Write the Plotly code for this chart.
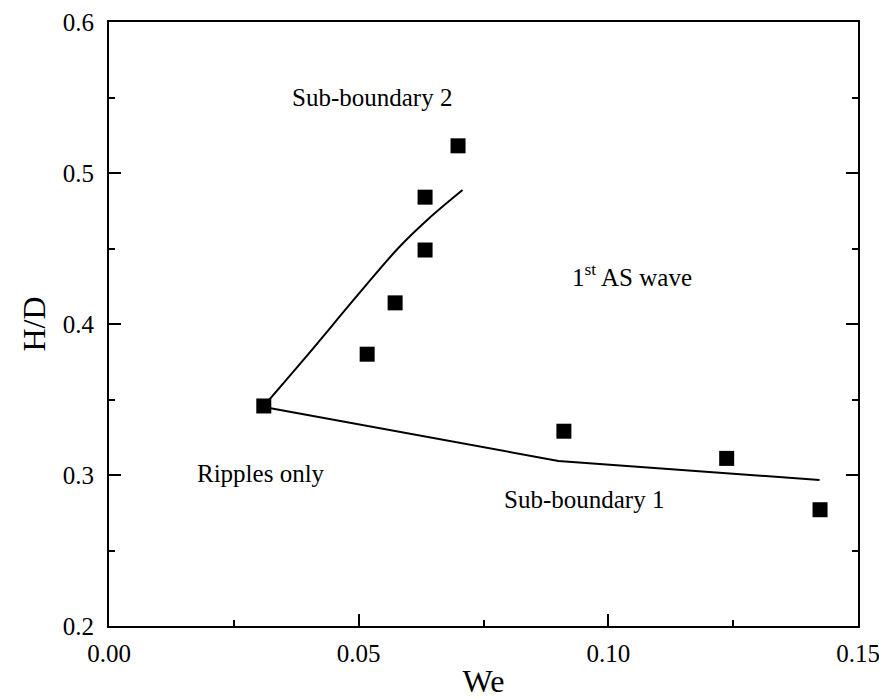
import plotly.graph_objects as go

# Experimental points
we_pts = [0.0310, 0.0517, 0.0573, 0.0633, 0.0633, 0.0699, 0.0911, 0.1237, 0.1424]
hd_pts = [0.3457, 0.3800, 0.4140, 0.4490, 0.4840, 0.5180, 0.3290, 0.3110, 0.2770]

# Sub-boundary 1 (lower line)
sb1_we = [0.0310, 0.0900, 0.1423]
sb1_hd = [0.3450, 0.3093, 0.2967]

# Sub-boundary 2 (upper curve)
sb2_we = [0.0310, 0.0400, 0.0500, 0.0580, 0.0640, 0.0708]
sb2_hd = [0.3457, 0.3804, 0.4199, 0.4505, 0.4697, 0.4887]

# Region labels
label_text = ["Sub-boundary 2", "1<sup>st</sup> AS wave", "Ripples only", "Sub-boundary 1"]
label_we = [0.0526, 0.1047, 0.0304, 0.0952]
label_hd = [0.5503, 0.4325, 0.3007, 0.2841]

FONT = "Liberation Serif"

fig = go.Figure()
fig.add_trace(go.Scatter(x=sb1_we, y=sb1_hd, mode="lines",
                         line=dict(color="black", width=2), showlegend=False))
fig.add_trace(go.Scatter(x=sb2_we, y=sb2_hd, mode="lines",
                         line=dict(color="black", width=2, shape="spline", smoothing=1.0),
                         showlegend=False))
fig.add_trace(go.Scatter(x=we_pts, y=hd_pts, mode="markers",
                         marker=dict(symbol="square", size=15, color="black"),
                         showlegend=False))

for t, x, y in zip(label_text, label_we, label_hd):
    fig.add_annotation(x=x, y=y, text=t, showarrow=False,
                       font=dict(family=FONT, size=25, color="black"))

fig.update_layout(
    width=879, height=699,
    margin=dict(l=109, r=21, t=22, b=73, autoexpand=False),
    plot_bgcolor="white", paper_bgcolor="white",
    font=dict(family=FONT, color="black", size=25),
)
fig.update_xaxes(
    range=[0, 0.15], tickvals=[0, 0.05, 0.10, 0.15], ticktext=["0.00", "0.05", "0.10", "0.15"],
    ticks="inside", ticklen=12, tickwidth=1.5, tickcolor="black",
    minor=dict(ticks="inside", ticklen=6, tickwidth=1.5, tickcolor="black", dtick=0.025, tick0=0),
    showline=True, linecolor="black", linewidth=2, mirror=True,
    showgrid=False, zeroline=False, automargin=False, ticklabeloverflow="allow",
    title=dict(text="We", font=dict(family=FONT, size=32), standoff=12),
    tickfont=dict(family=FONT, size=25, color="black"), ticklabelstandoff=4,
)
fig.update_yaxes(
    range=[0.2, 0.6], tickvals=[0.2, 0.3, 0.4, 0.5, 0.6], ticktext=["0.2", "0.3", "0.4", "0.5", "0.6"],
    ticks="inside", ticklen=12, tickwidth=1.5, tickcolor="black",
    minor=dict(ticks="inside", ticklen=6, tickwidth=1.5, tickcolor="black", dtick=0.05, tick0=0.2),
    showline=True, linecolor="black", linewidth=2, mirror="ticks",
    showgrid=False, zeroline=False, automargin=False, ticklabeloverflow="allow",
    title=dict(text="H/D", font=dict(family=FONT, size=32), standoff=8),
    tickfont=dict(family=FONT, size=25, color="black"), ticklabelstandoff=8,
)

fig.write_html("out.html", config={"displayModeBar": False},
               post_script="document.body.style.margin='0';document.body.style.padding='0';")
